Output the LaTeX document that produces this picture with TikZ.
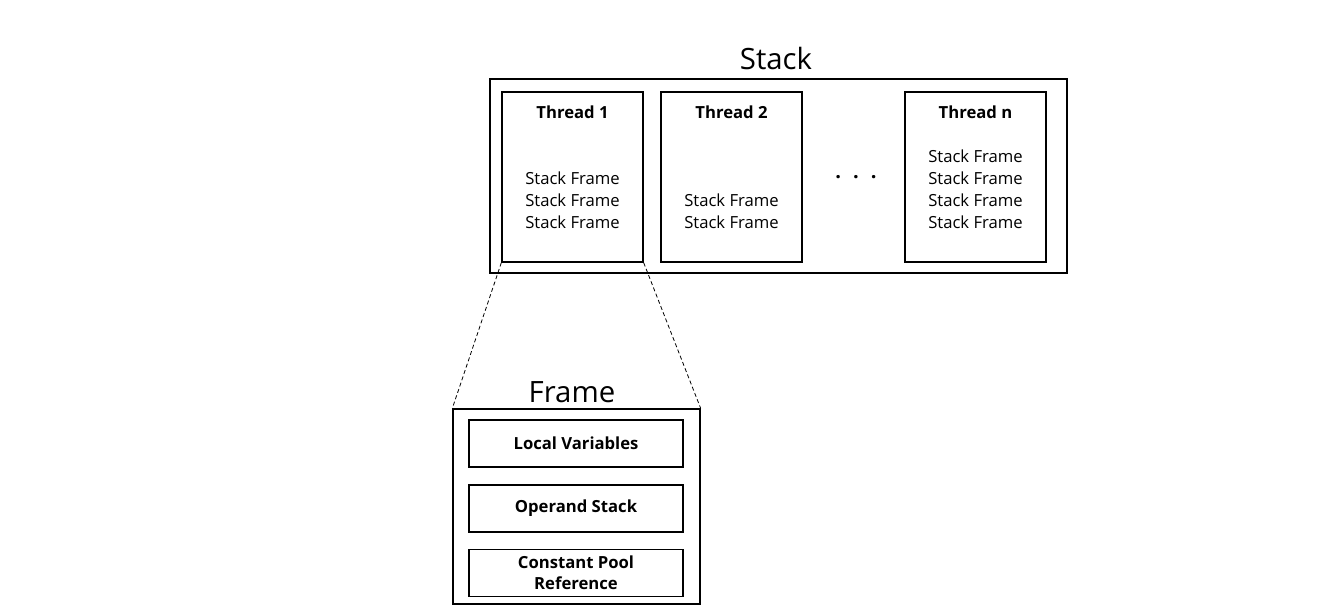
\documentclass[tikz,border=0pt]{standalone}
\usepackage{fontspec}
\setmainfont{Open Sans}
\begin{document}
\begin{tikzpicture}[x=0.75pt,y=-0.75pt,
  box/.style={draw,line width=1pt,rectangle,inner sep=0pt},
  thread/.style={box,minimum width=141*0.75pt,minimum height=170*0.75pt},
  item/.style={box,minimum width=214*0.75pt,minimum height=47*0.75pt,font=\fontsize{12.5}{15.5}\selectfont\bfseries,align=center},
  tlabel/.style={font=\fontsize{12.5}{14}\selectfont\bfseries},
  frames/.style={font=\fontsize{12.5}{16.5}\selectfont,align=center,anchor=south},
  title/.style={font=\fontsize{22}{26}\selectfont},
  zoomline/.style={line width=0.6pt,dash pattern=on 3pt off 2pt}]
\useasboundingbox (0,0) rectangle (1331,607);
\node[box,minimum width=577*0.75pt,minimum height=194*0.75pt] (stack) at (778.5,176) {};
\node[title] (stacktitle) at (776,58) {Stack};
\node[thread] (t1) at (572.5,177) {};
\node[thread] (t2) at (731.5,177) {};
\node[thread] (tn) at (975.5,177) {};
\node[tlabel] (t1l) at (572.5,112) {Thread 1};
\node[tlabel] (t2l) at (731.5,112) {Thread 2};
\node[tlabel] (tnl) at (975.5,112) {Thread n};
\node[frames] (t1f) at (572.5,233) {Stack Frame\\Stack Frame\\Stack Frame};
\node[frames] (t2f) at (731.5,233) {Stack Frame\\Stack Frame};
\node[frames] (tnf) at (975.5,233) {Stack Frame\\Stack Frame\\Stack Frame\\Stack Frame};
\node[font=\fontsize{15}{15}\selectfont\bfseries] (dots) at (856,177) {.\hspace{0.6em}.\hspace{0.6em}.};
\node[box,minimum width=247*0.75pt,minimum height=195*0.75pt] (frame) at (576.5,506.5) {};
\node[title] (frametitle) at (572,392) {Frame};
\node[item] (lv) at (576,443.5) {Local Variables};
\node[item] (os) at (576,508.5) {Operand Stack};
\node[item] (cp) at (576,573) {Constant Pool\\Reference};
\draw[zoomline] (t1.south west) -- (frame.north west);
\draw[zoomline] (t1.south east) -- (frame.north east);
\end{tikzpicture}
\end{document}
